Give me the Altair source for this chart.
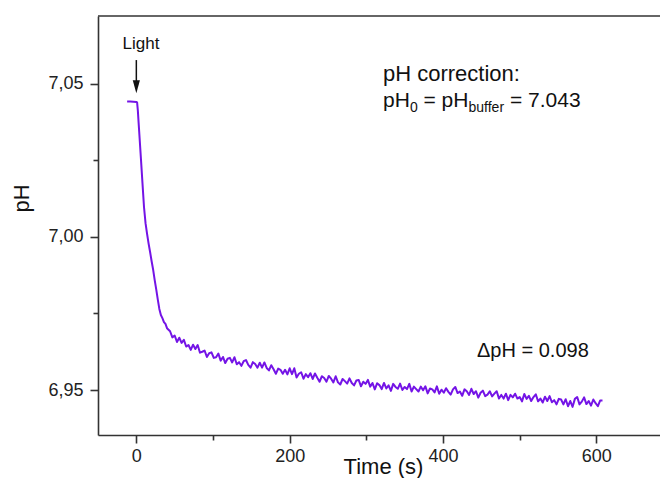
import altair as alt
import pandas as pd

# ---- data -----------------------------------------------------------------
# baseline before illumination and the fast light-induced drop (time in s, pH)
time_early = [-12, -8, -4, 0, 1, 2, 3, 4, 6, 8, 10, 12, 14, 16, 18, 20,
              22, 24, 26, 28, 30, 32, 34, 36, 38, 40, 42]
ph_early = [7.0443, 7.0443, 7.0442, 7.0441, 7.0440, 7.0412, 7.0372, 7.0333,
            7.0255, 7.0176, 7.0098, 7.0045, 7.0010, 6.9978, 6.9950, 6.9920,
            6.9892, 6.9858, 6.9828, 6.9795, 6.9765, 6.9745, 6.9735, 6.9722,
            6.9716, 6.9702, 6.9697]

# slow noisy tail, sampled every 3 s from 44 s to 608 s
time_tail = list(range(44, 609, 3))
ph_tail = [
    6.9692, 6.9672, 6.9678, 6.9657, 6.9671, 6.9654, 6.9664, 6.9642, 6.9647, 6.9631,
    6.9648, 6.9634, 6.9647, 6.9622, 6.9625, 6.9629, 6.9608, 6.9620, 6.9623, 6.9605,
    6.9607, 6.9619, 6.9596, 6.9608, 6.9588, 6.9602, 6.9605, 6.9590, 6.9607, 6.9584,
    6.9591, 6.9579, 6.9594, 6.9598, 6.9582, 6.9573, 6.9591, 6.9585, 6.9573, 6.9589,
    6.9573, 6.9590, 6.9572, 6.9564, 6.9581, 6.9568, 6.9553, 6.9570, 6.9566, 6.9553,
    6.9566, 6.9551, 6.9571, 6.9552, 6.9571, 6.9541, 6.9553, 6.9558, 6.9537, 6.9552,
    6.9542, 6.9555, 6.9536, 6.9554, 6.9540, 6.9527, 6.9545, 6.9539, 6.9527, 6.9546,
    6.9537, 6.9525, 6.9545, 6.9525, 6.9518, 6.9536, 6.9529, 6.9521, 6.9538, 6.9523,
    6.9515, 6.9531, 6.9533, 6.9512, 6.9527, 6.9520, 6.9533, 6.9511, 6.9523, 6.9502,
    6.9522, 6.9516, 6.9503, 6.9523, 6.9505, 6.9515, 6.9497, 6.9520, 6.9510, 6.9504,
    6.9521, 6.9500, 6.9510, 6.9503, 6.9520, 6.9495, 6.9511, 6.9503, 6.9495, 6.9511,
    6.9499, 6.9512, 6.9489, 6.9505, 6.9502, 6.9492, 6.9512, 6.9488, 6.9501, 6.9491,
    6.9506, 6.9494, 6.9485, 6.9502, 6.9510, 6.9490, 6.9495, 6.9481, 6.9502, 6.9496,
    6.9484, 6.9504, 6.9487, 6.9496, 6.9475, 6.9491, 6.9498, 6.9480, 6.9485, 6.9496,
    6.9479, 6.9488, 6.9496, 6.9472, 6.9484, 6.9472, 6.9488, 6.9467, 6.9484, 6.9476,
    6.9488, 6.9472, 6.9477, 6.9463, 6.9487, 6.9471, 6.9481, 6.9464, 6.9477, 6.9486,
    6.9463, 6.9472, 6.9459, 6.9478, 6.9464, 6.9480, 6.9460, 6.9467, 6.9453, 6.9471,
    6.9469, 6.9453, 6.9470, 6.9447, 6.9464, 6.9445, 6.9471, 6.9477, 6.9453, 6.9462,
    6.9476, 6.9454, 6.9464, 6.9449, 6.9469, 6.9457, 6.9447, 6.9466, 6.9466,
]

# "Light" arrow at t = 0 (pH of arrow top, arrow-head centre)
arrow_time = [0]
arrow_top = [7.0578]
arrow_head = [7.0491]

x_ticks = [0, 100, 200, 300, 400, 500, 600]
y_ticks = [6.95, 6.975, 7.0, 7.025, 7.05]

# ---- layout ------------------------------------------------------------------
W, H = 562, 419
FONT = "Liberation Sans"
AXIS_COLOR = "#333333"
LINE_COLOR = "#7414E6"

df = pd.DataFrame({"t": time_early + time_tail, "pH": ph_early + ph_tail})

x_scale = alt.Scale(domain=[-50, 683], nice=False, zero=False)
y_scale = alt.Scale(domain=[6.9353, 7.0722], nice=False, zero=False)

x_axis = alt.Axis(
    values=x_ticks,
    title="Time (s)",
    grid=False,
    labelExpr="datum.value % 200 === 0 ? datum.label : ''",
    tickSize={"condition": {"test": "datum.value % 200 === 0", "value": 8}, "value": 5},
    labelFlush=False,
    labelOverlap=False,
    labelPadding=4,
    titleX=285,
    titleY=38,
    titleBaseline="alphabetic",
    titleAnchor="middle",
)

y_axis = alt.Axis(
    values=y_ticks,
    title="pH",
    grid=False,
    labelExpr="abs(datum.value*20 - round(datum.value*20)) < 0.01 ? replace(format(datum.value, '.2f'), '.', ',') : ''",
    tickSize={"condition": {"test": "abs(datum.value*20 - round(datum.value*20)) < 0.01", "value": 8},
              "value": 5},
    labelOverlap=False,
    labelPadding=7,
    titleX=-70,
    titleY=182,
    titleAngle=270,
    titleBaseline="alphabetic",
    titleAlign="center",
)

line = alt.Chart(df).mark_line(
    color=LINE_COLOR, strokeWidth=2, strokeJoin="round"
).encode(
    x=alt.X("t:Q", scale=x_scale, axis=x_axis),
    y=alt.Y("pH:Q", scale=y_scale, axis=y_axis),
)

arrow_df = pd.DataFrame({"t": arrow_time, "top": arrow_top, "head": arrow_head})
arrow_shaft = alt.Chart(arrow_df).mark_rule(color="#111111", strokeWidth=1.5).encode(
    x="t:Q", y="top:Q", y2="head:Q"
)
arrow_tip = alt.Chart(arrow_df).mark_point(
    shape="M-0.55,-1L0.55,-1L0,1Z", filled=True, color="#111111", size=169, opacity=1
).encode(x="t:Q", y="head:Q")

top_border = alt.Chart(pd.DataFrame({"a": [0]})).mark_rule(
    color=AXIS_COLOR, strokeWidth=1.6
).encode(x=alt.value(0), x2=alt.value(W), y=alt.value(0))


def label(text, x, y, size, align="left"):
    return alt.Chart(pd.DataFrame({"a": [0]})).mark_text(
        text=text, font=FONT, fontSize=size, color="#111111",
        align=align, baseline="alphabetic",
    ).encode(x=alt.value(x), y=alt.value(y))


# page coordinates -> plot coordinates: plot origin at (98, 16)
OX, OY = 98, 16
texts = [
    label("Light", 141 - OX, 49 - OY, 17, "center"),
    label("pH correction:", 383 - OX, 81 - OY, 22),
    label("pH", 383 - OX, 107 - OY, 21),
    label("0", 410 - OX, 112 - OY, 14),
    label("= pH", 423.5 - OX, 107 - OY, 21),
    label("buffer", 468.5 - OX, 112 - OY, 14),
    label("= 7.043", 510 - OX, 107 - OY, 21),
    label("\u0394pH = 0.098", 477 - OX, 357 - OY, 20),
]

chart = alt.layer(top_border, line, arrow_shaft, arrow_tip, *texts).properties(
    width=W,
    height=H,
    autosize=alt.AutoSizeParams(type="none"),
    padding={"left": 90, "top": 8, "right": 0, "bottom": 43},
    background="white",
).configure_view(
    stroke=None
).configure_axis(
    domainColor=AXIS_COLOR,
    domainWidth=1.6,
    tickColor=AXIS_COLOR,
    tickWidth=1.6,
    labelFont=FONT,
    labelFontSize=18,
    labelColor="#222222",
    titleFont=FONT,
    titleFontSize=22,
    titleFontWeight="normal",
    titleColor="#111111",
)

chart.save("out.html", embed_options={"renderer": "svg", "actions": False})
